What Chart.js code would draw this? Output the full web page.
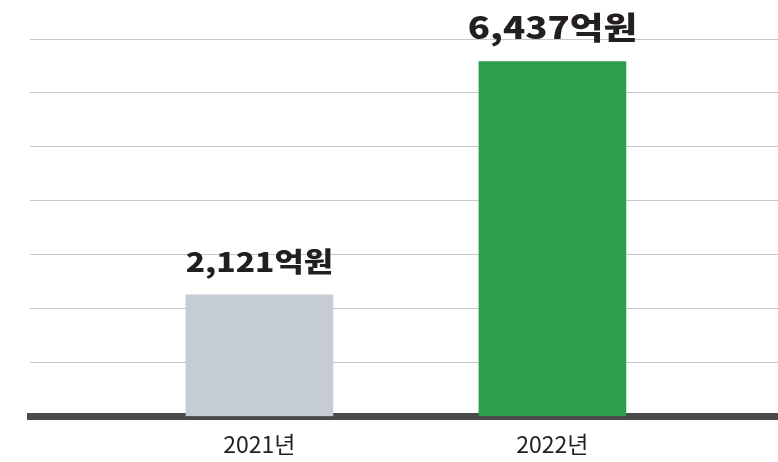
<!DOCTYPE html>
<html lang="ko">
<head>
<meta charset="utf-8">
<script src="https://cdn.jsdelivr.net/npm/chart.js@4/dist/chart.umd.min.js"></script>
<style>
  html, body { margin: 0; padding: 0; background: #fff; }
  #wrap { width: 778px; height: 462px; }
</style>
</head>
<body>
<div id="wrap"><canvas id="myChart" width="778" height="462"></canvas></div>
<script>
let ROKY = ['2021년', '2022년'];
let HODNOTY = [2121, 6437];
let POPISKY = ['2,121억원', '6,437억원'];
let BARVY = ['#c5ccd4', '#2e9e4a'];

// popisky nad sloupci
const popiskyPlugin = {
    id: 'popisky',
    afterDatasetsDraw(chart) {
        const ctx = chart.ctx;
        const meta = chart.getDatasetMeta(0);
        const velikosti = [27, 31];
        meta.data.forEach((bar, i) => {
            ctx.save();
            ctx.translate(bar.x, bar.y - 23);
            ctx.scale(1.18, 1);
            ctx.font = '900 ' + velikosti[i] + 'px "Noto Sans CJK KR", sans-serif';
            ctx.fillStyle = '#231f20';
            ctx.textAlign = 'center';
            ctx.textBaseline = 'alphabetic';
            ctx.fillText(POPISKY[i], 0, 0);
            ctx.restore();
        });
    }
};

let ctx = document.getElementById('myChart').getContext('2d');
let myChart = new Chart(ctx, {
    type: 'bar',
    data: {
        datasets: [{
            data: ROKY.map((_, i) => ({ x: i, y: HODNOTY[i] })),
            backgroundColor: BARVY,
            barThickness: 147,
            borderWidth: 0,
            base: -130
        }]
    },
    options: {
        responsive: false,
        animation: false,
        layout: { padding: { top: 39, left: 30, right: 0, bottom: 0 } },
        plugins: { legend: { display: false }, tooltip: { enabled: false } },
        scales: {
            x: {
                type: 'linear',
                min: -0.783,
                max: 1.77,
                offset: false,
                grid: { display: false, drawTicks: false, tickLength: 0 },
                border: { display: true, color: '#4a4a4a', width: 7 },
                afterBuildTicks: (s) => { s.ticks = ROKY.map((_, i) => ({ value: i })); },
                afterFit: (s) => { s.height = 45.5; },
                ticks: {
                    padding: 14,
                    color: '#231f20',
                    font: { family: '"Noto Sans CJK KR", sans-serif', size: 23 },
                    callback: (v) => ROKY[v]
                }
            },
            y: {
                min: -130,
                max: 6854,
                grid: { color: '#c8c8c8', lineWidth: 1, drawTicks: false },
                border: { display: false },
                ticks: { display: false },
                afterBuildTicks: (s) => {
                    const krok = (s.max - s.min) / 7;
                    s.ticks = Array.from({ length: 8 }, (_, i) => ({ value: s.min + i * krok }));
                },
                afterFit: (s) => { s.width = 0; }
            }
        }
    },
    plugins: [popiskyPlugin]
});
</script>
</body>
</html>
